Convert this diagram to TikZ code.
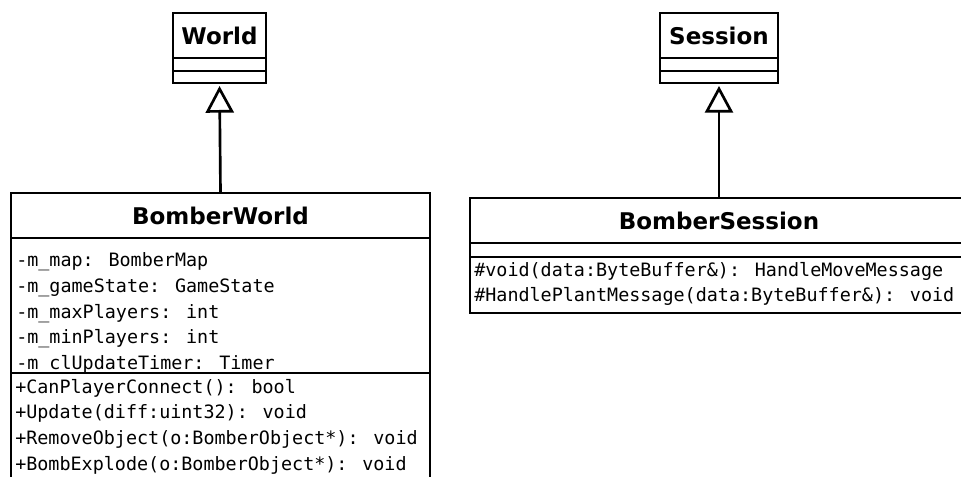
\documentclass[tikz,border=0pt]{standalone}
\usepackage{fontspec}
\newfontfamily\classfont{DejaVu Sans}
\newfontfamily\memberfont{DejaVu Sans Mono}
\usetikzlibrary{arrows.meta, positioning}
\newlength\pxu
\setlength\pxu{0.75pt}
\tikzset{
  compart/.style={draw, line width=2pt, inner sep=0pt, outer sep=0pt, fill=white},
  classname/.style={compart, minimum height=45\pxu, font=\classfont\bfseries\fontsize{17.25}{20}\selectfont},
  member/.style={inner sep=0pt, anchor=base west, font=\memberfont\fontsize{13.8}{16}\selectfont},
  inherit/.style={-{Triangle[open, length=20pt, width=21pt]}, line width=2pt, shorten >=3\pxu},
}

\begin{document}
\begin{tikzpicture}[x=0.75pt, y=-0.75pt]
    \useasboundingbox[fill=white] (0,0) rectangle (961,477);
    % base classes
    \node[classname, minimum width=93\pxu, anchor=north west] (world) at (173,13) {World};
    \node[compart, minimum width=93\pxu, minimum height=13\pxu, below=0pt of world] (worldattr) {};
    \node[compart, minimum width=93\pxu, minimum height=12\pxu, below=0pt of worldattr] (worldops) {};
    \node[classname, minimum width=118\pxu, anchor=north west] (session) at (660,13) {Session};
    \node[compart, minimum width=118\pxu, minimum height=13\pxu, below=0pt of session] (sessionattr) {};
    \node[compart, minimum width=118\pxu, minimum height=12\pxu, below=0pt of sessionattr] (sessionops) {};
    % BomberWorld
    \node[classname, minimum width=419\pxu, anchor=north west] (bworld) at (11,193) {BomberWorld};
    \node[compart, minimum width=419\pxu, minimum height=135\pxu, below=0pt of bworld] (bworldattr) {};
    \node[member] (bwattr1) at (16,267) {-m\_map: BomberMap};
    \node[member] (bwattr2) at (16,293) {-m\_gameState: GameState};
    \node[member] (bwattr3) at (16,318.5) {-m\_maxPlayers: int};
    \node[member] (bwattr4) at (16,344) {-m\_minPlayers: int};
    \node[member] (bwattr5) at (16,370) {-m\_clUpdateTimer: Timer};
    \node[compart, minimum width=419\pxu, minimum height=120\pxu, below=0pt of bworldattr] (bworldops) {};
    \node[member] (bwop1) at (15,393) {+CanPlayerConnect(): bool};
    \node[member] (bwop2) at (15,419) {+Update(diff:uint32): void};
    \node[member] (bwop3) at (15,445) {+RemoveObject(o:BomberObject*): void};
    \node[member] (bwop4) at (15,470.5) {+BombExplode(o:BomberObject*): void};
    % BomberSession
    \node[classname, minimum width=498\pxu, anchor=north west] (bsession) at (470,198) {BomberSession};
    \node[compart, minimum width=498\pxu, minimum height=14\pxu, below=0pt of bsession] (bsessionattr) {};
    \node[compart, minimum width=498\pxu, minimum height=56\pxu, below=0pt of bsessionattr] (bsessionops) {};
    \node[member] (bsop1) at (474,277) {\#void(data:ByteBuffer\&): HandleMoveMessage};
    \node[member] (bsop2) at (474,302) {\#HandlePlantMessage(data:ByteBuffer\&): void};
    % generalisation
    \draw[inherit] (bworld.north) -- (worldops.south);
    \draw[inherit] (bsession.north) -- (sessionops.south);
\end{tikzpicture}
\end{document}
